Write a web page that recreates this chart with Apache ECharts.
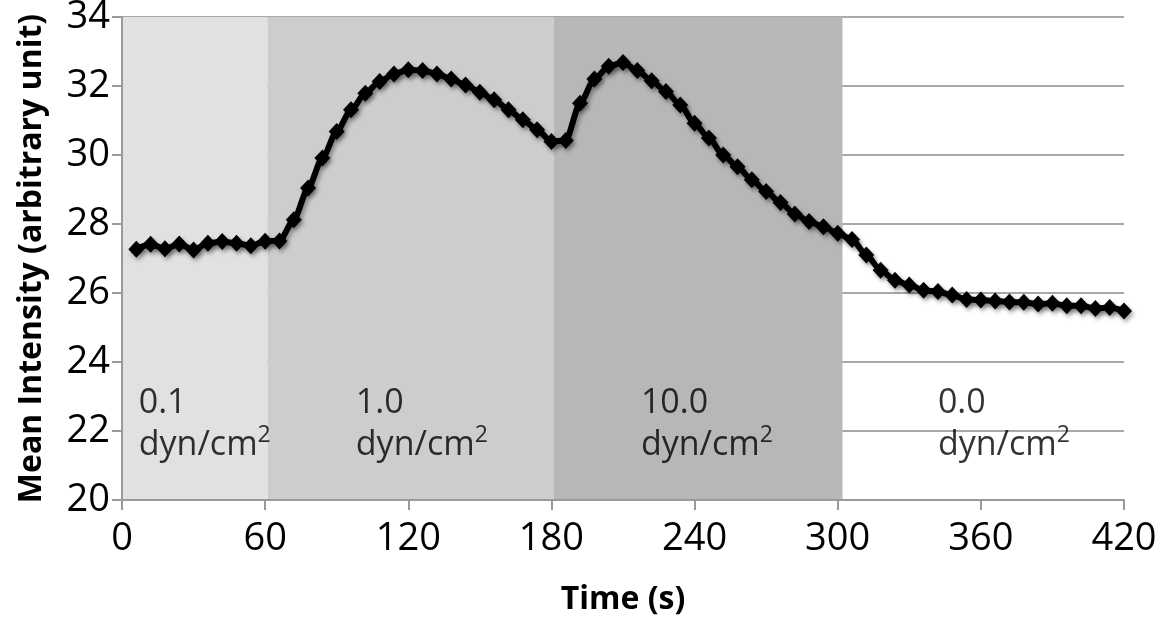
<!DOCTYPE html>
<html>
<head>
<meta charset="utf-8">
<script src="https://cdn.jsdelivr.net/npm/echarts@6/dist/echarts.min.js"></script>
<style>
html,body{margin:0;padding:0;background:#fff;}
#chart{width:1160px;height:620px;}
</style>
</head>
<body>
<div id="chart"></div>
<script>
// Time (s) of each measurement
const times = [6,12,18,24,30,36,42,48,54,60,66,72,78,84,90,96,102,108,114,120,
  126,132,138,144,150,156,162,168,174,180,186,192,198,204,210,216,222,228,234,240,
  246,252,258,264,270,276,282,288,294,300,306,312,318,324,330,336,342,348,354,360,
  366,372,378,384,390,396,402,408,414,420];
// Mean intensity (arbitrary unit)
const intensity = [27.27,27.41,27.28,27.42,27.25,27.44,27.49,27.44,27.37,27.50,
  27.51,28.12,29.04,29.91,30.68,31.31,31.79,32.13,32.35,32.47,
  32.45,32.35,32.20,32.03,31.82,31.60,31.31,31.02,30.73,30.39,
  30.42,31.50,32.20,32.57,32.68,32.45,32.15,31.84,31.45,30.92,
  30.49,30.00,29.66,29.28,28.94,28.62,28.29,28.07,27.92,27.73,
  27.55,27.10,26.66,26.37,26.23,26.08,26.04,25.94,25.81,25.80,
  25.77,25.74,25.73,25.68,25.70,25.63,25.63,25.55,25.58,25.48];
// Shear stress periods: [start, end]
const periodStart = [0, 61, 181];
const periodEnd = [61, 181, 302];
const periodColors = ['#e1e1e1', '#cdcdcd', '#b7b7b7'];
// Shear stress labels
const stressValues = ['0.1', '1.0', '10.0', '0.0'];
const stressLabelX = [7, 98, 217.5, 342];
const stressLabelY = 22.2;
const unitText = 'dyn/cm';
const unitSup = '2';
// Axis ticks
const xTicks = [0, 60, 120, 180, 240, 300, 360, 420];
const yTicks = [20, 22, 24, 26, 28, 30, 32, 34];

const FONT = '"Open Sans", sans-serif';
const chart = echarts.init(document.getElementById('chart'), null, {renderer: 'canvas'});

const lineData = times.map((t, i) => [t, intensity[i]]);
const areas = periodStart.map((s, i) => [
  {xAxis: s, itemStyle: {color: periodColors[i]}},
  {xAxis: periodEnd[i]}
]);
const labelData = stressValues.map((v, i) => [stressLabelX[i], stressLabelY, v]);

chart.setOption({
  animation: false,
  backgroundColor: '#fff',
  textStyle: {fontFamily: FONT},
  grid: {left: 122, right: 36, top: 17, bottom: 120, containLabel: false, outerBoundsMode: 'none'},
  xAxis: {
    type: 'value', min: xTicks[0], max: xTicks[xTicks.length - 1], interval: 60,
    name: 'Time (s)', nameLocation: 'middle', nameGap: 84,
    nameTextStyle: {fontSize: 32, fontWeight: 'bold', color: '#000', fontFamily: FONT},
    axisLine: {lineStyle: {color: '#9a9a9a', width: 2}},
    axisTick: {show: true, length: 10, lineStyle: {color: '#9a9a9a', width: 2}},
    axisLabel: {fontSize: 38, color: '#000', margin: 20, fontFamily: FONT, hideOverlap: false},
    splitLine: {show: false}
  },
  yAxis: {
    type: 'value', min: yTicks[0], max: yTicks[yTicks.length - 1], interval: 2,
    name: 'Mean Intensity (arbitrary unit)', nameLocation: 'middle', nameGap: 74,
    nameTextStyle: {fontSize: 32, fontWeight: 'bold', color: '#000', fontFamily: FONT},
    axisLine: {show: true, lineStyle: {color: '#9a9a9a', width: 2}},
    axisTick: {show: true, length: 10, lineStyle: {color: '#9a9a9a', width: 2}},
    axisLabel: {fontSize: 38, color: '#000', margin: 12, fontFamily: FONT, hideOverlap: false},
    splitLine: {show: true, lineStyle: {color: '#a8a8a8', width: 2}}
  },
  series: [
    {
      type: 'line', name: 'Mean Intensity', data: lineData, z: 5,
      smooth: 0.25, smoothMonotone: 'x',
      symbol: 'diamond', symbolSize: [16, 17], showSymbol: true,
      lineStyle: {color: '#000', width: 6, shadowColor: 'rgba(0,0,0,0.35)', shadowBlur: 4, shadowOffsetX: 2, shadowOffsetY: 3},
      itemStyle: {color: '#000', shadowColor: 'rgba(0,0,0,0.35)', shadowBlur: 4, shadowOffsetX: 2, shadowOffsetY: 3},
      markArea: {silent: true, z: 0, data: areas}
    },
    {
      type: 'scatter', name: 'labels', data: labelData, symbolSize: 0, z: 6, silent: true,
      label: {
        show: true, position: 'right', distance: 0,
        formatter: p => '{n|' + p.value[2] + '}\n{n|' + unitText + '}{s|' + unitSup + '}',
        color: '#000', fontFamily: FONT, align: 'left',
        rich: {
          n: {fontSize: 34, lineHeight: 42, color: '#000', fontFamily: FONT},
          s: {fontSize: 23, lineHeight: 26, color: '#000', fontFamily: FONT, verticalAlign: 'top'}
        }
      }
    }
  ]
});
</script>
</body>
</html>
